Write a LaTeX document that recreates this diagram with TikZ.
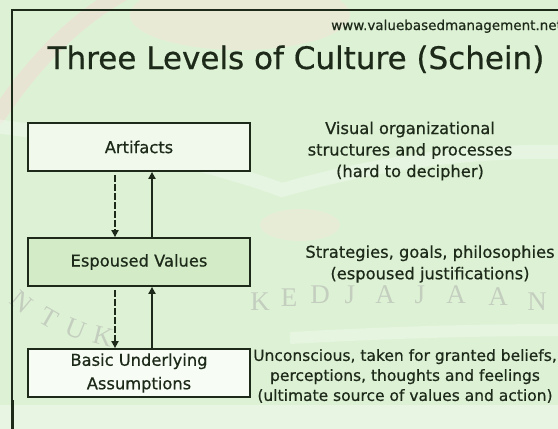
\documentclass[tikz,border=0pt]{standalone}
\usepackage{fontspec}
\setmainfont{DejaVu Sans}[FakeBold=0.6]
\newfontfamily\wmfont{Liberation Serif}
\usetikzlibrary{arrows.meta}

\definecolor{bg}{HTML}{DDF2D5}
\definecolor{ink}{HTML}{1D2919}
\definecolor{wmgrey}{HTML}{C4CEBF}
\definecolor{wmpink}{HTML}{F0DCD3}
\definecolor{wmpeach}{HTML}{F1E6D8}
\definecolor{wmwhite}{HTML}{EEF8EB}
\definecolor{fillA}{HTML}{F0F9EC}
\definecolor{fillE}{HTML}{D3ECC7}
\definecolor{fillB}{HTML}{F7FCF5}

\tikzset{
  levelbox/.style={draw=ink, line width=1.8pt, minimum width=222pt, minimum height=48pt,
    inner sep=2pt, align=center, text=ink, font=\fontsize{16.3}{23.5}\selectfont},
  desc/.style={align=center, text=ink, inner sep=0pt},
  downflow/.style={draw=ink, line width=1.8pt, dash pattern=on 7pt off 2pt,
    -{Triangle[length=7pt,width=7pt]}, shorten <=3pt},
  upflow/.style={draw=ink, line width=1.8pt, -{Triangle[length=7pt,width=7pt]}},
  wmletter/.style={text=wmgrey, inner sep=0pt, font=\wmfont\fontsize{27}{27}\selectfont}
}

\begin{document}
\begin{tikzpicture}[x=1pt,y=-1pt]
% page and background
\useasboundingbox (0,0) rectangle (558,429);
\fill[bg] (0,0) rectangle (558,429);

% faint emblem in the background
\fill[wmpeach, opacity=0.6] (240,15) ellipse [x radius=110, y radius=35];
\fill[wmpeach, opacity=0.45] (300,225) ellipse [x radius=40, y radius=16];
\draw[wmpink, line width=16pt, opacity=0.6] (-5,120) .. controls (35,60) and (75,20) .. (125,-8);
\draw[wmwhite, line width=14pt, opacity=0.55]
  (-5,126) .. controls (90,138) and (200,160) .. (282,190)
  .. controls (370,165) and (460,150) .. (565,152);
\draw[wmwhite, line width=12pt, opacity=0.5] (290,338) .. controls (400,332) and (480,330) .. (565,330);
\fill[wmwhite, opacity=0.6] (0,405) rectangle (558,429);

% curved motto
\node[wmletter, rotate=-40] (mN) at (22,302) {N};
\node[wmletter, rotate=-30] (mT) at (49,318) {T};
\node[wmletter, rotate=-22] (mU) at (76,329) {U};
\node[wmletter, rotate=-14] (mK) at (103,336) {K};
\node[wmletter] (w1) at (260,302) {K};
\node[wmletter] (w2) at (289,298) {E};
\node[wmletter] (w3) at (320,295) {D};
\node[wmletter] (w4) at (350,295) {J};
\node[wmletter] (w5) at (385,295) {A};
\node[wmletter] (w6) at (420,295) {J};
\node[wmletter] (w7) at (456,295) {A};
\node[wmletter] (w8) at (498,297) {A};
\node[wmletter] (w9) at (537,302) {N};

% frame
\draw[ink, line width=1.5pt] (12,429) -- (12,10) -- (558,10);
\draw[ink, line width=3pt] (12,400) -- (12,429);

% header
\node[anchor=base west, text=ink, inner sep=0pt, font=\fontsize{13.5}{15}\selectfont] (url)
  at (331,30) {www.valuebasedmanagement.net};
\node[anchor=base, text=ink, inner sep=0pt, font=\fontsize{31}{35}\selectfont] (title)
  at (296,69) {Three Levels of Culture (Schein)};

% the three levels
\node[levelbox, fill=fillA] (art) at (139,147) {Artifacts};
\node[levelbox, fill=fillE] (esp) at (139,262) {Espoused Values};
\node[levelbox, fill=fillB] (bua) at (139,373) {Basic Underlying\\Assumptions};

% influence between levels
\draw[downflow] ([xshift=-24pt]art.south) -- ([xshift=-24pt]esp.north);
\draw[upflow]   ([xshift=13pt]esp.north) -- ([xshift=13pt]art.south);
\draw[downflow] ([xshift=-24pt]esp.south) -- ([xshift=-24pt]bua.north);
\draw[upflow]   ([xshift=13pt]bua.north) -- ([xshift=13pt]esp.south);

% descriptions
\node[desc, font=\fontsize{16.3}{21.5}\selectfont] (dA) at (410,151)
  {Visual organizational\\structures and processes\\(hard to decipher)};
\node[desc, font=\fontsize{16.3}{21.5}\selectfont] (dE) at (430,264)
  {Strategies, goals, philosophies\\(espoused justifications)};
\node[desc, font=\fontsize{15.5}{20}\selectfont] (dB) at (405,376)
  {Unconscious, taken for granted beliefs,\\perceptions, thoughts and feelings\\(ultimate source of values and action)};
\end{tikzpicture}
\end{document}
